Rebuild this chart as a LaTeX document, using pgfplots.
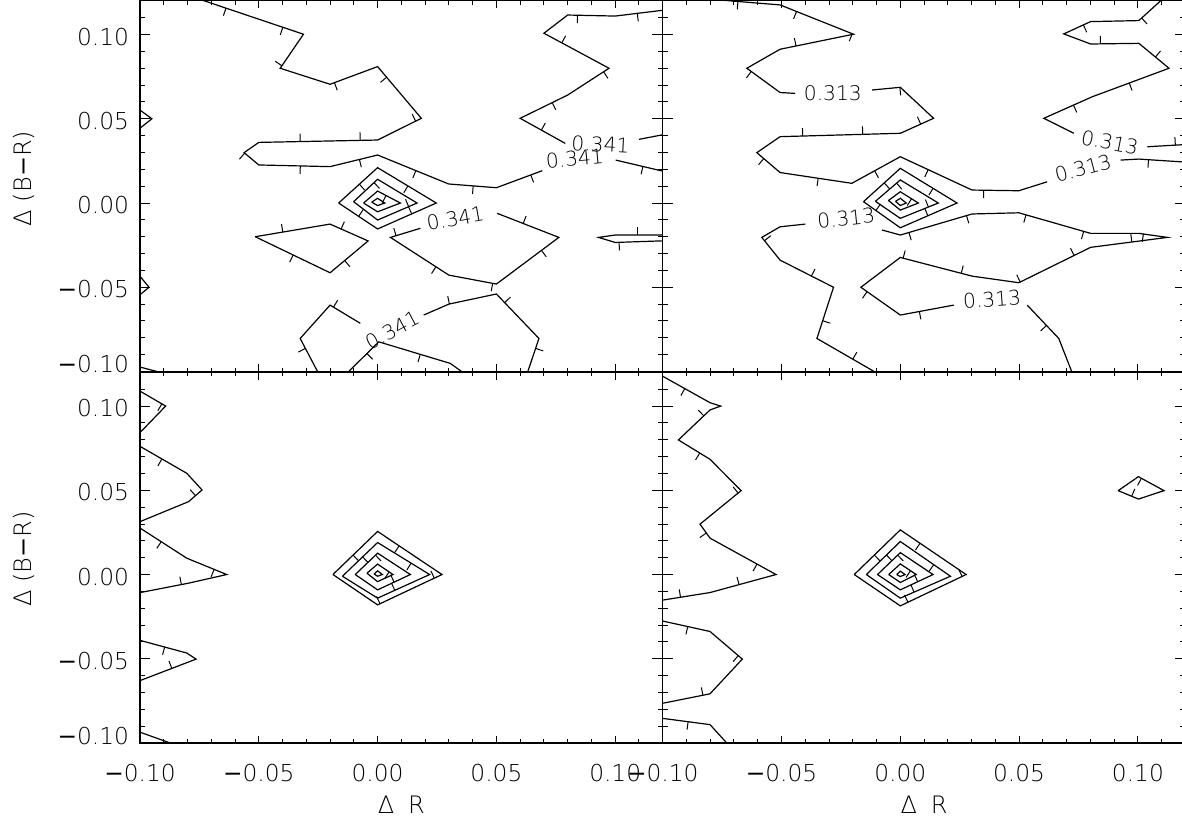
\documentclass[border=0pt]{standalone}
\usepackage{fontspec}
\setmainfont{DejaVuSans-ExtraLight.ttf}
\newfontfamily\regfont{DejaVu Sans}
\newcommand\mn{{\regfont −}}
\usepackage{pgfplots}
\pgfplotsset{compat=1.18}
\usetikzlibrary{decorations.markings}
\newcommand\tkfont{\fontsize{11.65}{14}\selectfont}
\newcommand\lbfont{\fontsize{10.1}{12}\selectfont}
\newcommand\axfont{\fontsize{12}{14}\selectfont}
\tikzset{
  cl/.style={black, line width=0.6pt, mark=none},
  dhR/.style={postaction={decorate}, decoration={markings, mark=between positions 14pt and -3pt step 30pt with {\draw[line width=0.5pt] (0,0) -- (0,-4pt);}}},
  dhL/.style={postaction={decorate}, decoration={markings, mark=between positions 14pt and -3pt step 30pt with {\draw[line width=0.5pt] (0,0) -- (0,4pt);}}},
  lb/.style={font=\lbfont, inner sep=0pt},
}
\pgfplotsset{
  panel/.style={
    disabledatascaling,
    scale only axis, width=261.35pt, height=185.3pt,
    xmin=-0.1, xmax=0.12, ymin=-0.1, ymax=0.12,
    xtick={-0.1,-0.05,0,0.05,0.1}, ytick={-0.1,-0.05,0,0.05,0.1},
    minor xtick={-0.09,-0.08,-0.07,-0.06,-0.04,-0.03,-0.02,-0.01,0.01,0.02,0.03,0.04,0.06,0.07,0.08,0.09,0.11},
    minor ytick={-0.09,-0.08,-0.07,-0.06,-0.04,-0.03,-0.02,-0.01,0.01,0.02,0.03,0.04,0.06,0.07,0.08,0.09,0.11},
    scaled ticks=false,
    tick align=inside,
    xtick style={black, line width=0.5pt, /pgfplots/major tick length=3.7pt, /pgfplots/minor tick length=1.9pt},
    ytick style={black, line width=0.5pt, /pgfplots/major tick length=5.2pt, /pgfplots/minor tick length=2.6pt},
    axis line style={line width=0.6pt},
    tick label style={font=\tkfont},
    xticklabel style={yshift=-7pt},
    yticklabel style={xshift=-2pt, yshift=-1pt},
    xticklabels={}, yticklabels={},
    anchor=north west,
  },
  xlab/.style={xticklabels={\mn0.10,\mn0.05,0.00,0.05,0.10},
    xlabel={Δ\hspace{7pt}R},
    xlabel style={at={(axis description cs:0.5,-0.1665)}, anchor=center, font=\axfont}},
  ylab/.style={yticklabels={\raisebox{4.5pt}[\height][\depth]{\mn0.10},\mn0.05,0.00,0.05,0.10},
    ylabel={Δ (B\mn R)},
    ylabel style={at={(axis description cs:-0.222,#1)}, anchor=center, font=\axfont}},
}
\begin{document}
\begin{tikzpicture}
\useasboundingbox (0,0) rectangle (591pt,-411pt);
% ---------------- top left ----------------
\begin{axis}[panel, ylab=0.521, at={(70pt,-0.45pt)}]
\addplot[cl,dhR] coordinates {(-0.075,0.121) (-0.0312,0.1002) (-0.041,0.08) (-0.02,0.0705) (0,0.081) (0.0184,0.0503) (0,0.0374) (-0.05,0.036) (-0.0562,0.0299) (-0.05,0.0226) (-0.02,0.0216) (0,0.0285) (0.0299,0.0113) (0.05,0.0091) (0.0693,0.0192)};
\addplot[cl,dhR] coordinates {(0.1002,0.0255) (0.121,0.0186)};
\addplot[cl,dhL] coordinates {(0.121,0.1146) (0.1,0.111) (0.08,0.1116) (0.07,0.1008) (0.0974,0.08) (0.08,0.0641) (0.06,0.0503) (0.079,0.0354)};
\addplot[cl,dhL] coordinates {(0.11,0.0378) (0.121,0.0408)};
\addplot[cl,dhR] coordinates {(0.121,-0.019) (0.1,-0.019) (0.093,-0.0204) (0.1,-0.0234) (0.121,-0.0224)};
\addplot[cl] coordinates {(-0.101,0.0562) (-0.095,0.05) (-0.101,0.0433)};
\addplot[cl] coordinates {(-0.101,-0.0418) (-0.0962,-0.05) (-0.101,-0.0556)};
\addplot[cl] coordinates {(-0.101,-0.097) (-0.0902,-0.101)};
\addplot[cl,dhL] coordinates {(-0.0515,-0.02) (-0.02,-0.0125) (-0.004,-0.0225) (-0.02,-0.0414) (-0.0515,-0.02)};
\addplot[cl,dhL] coordinates {(0.0503,-0.0061) (0.0763,-0.0204) (0.05,-0.0481) (0.03,-0.0428) (0.0054,-0.0204) (0.018,-0.015)};
\addplot[cl,dhL] coordinates {(-0.0249,-0.101) (-0.0326,-0.0804) (-0.02,-0.0606) (-0.0073,-0.0714)};
\addplot[cl,dhL] coordinates {(0.0194,-0.0665) (0.03,-0.06) (0.05,-0.054) (0.0679,-0.0804) (0.063,-0.101)};
\addplot[cl,dhR] coordinates {(-0.0129,-0.101) (0.0005,-0.0824) (0.0306,-0.0952) (0.0363,-0.101)};
\addplot[cl,dhR] coordinates {(-0.0164,0) (0,0.021) (0.0247,0) (0,-0.0154) (-0.0164,0)};
\addplot[cl,dhR] coordinates {(-0.0101,0.0008) (0,0.0141) (0.0166,0) (0,-0.0101) (-0.0101,0.0008)};
\addplot[cl,dhR] coordinates {(-0.0059,0) (0,0.0071) (0.0096,0) (0,-0.0052) (-0.0059,0)};
\addplot[cl] coordinates {(-0.0025,0.0005) (0,0.0028) (0.003,0) (0,-0.0015) (-0.0025,0.0005)};
\node[lb, rotate=5] at (axis cs:0.083,0.0265) {0.341};
\node[lb, rotate=-3] at (axis cs:0.0938,0.0349) {0.341};
\node[lb, rotate=10] at (axis cs:0.0327,-0.0091) {0.341};
\node[lb, rotate=28] at (axis cs:0.0061,-0.0754) {0.341};
\end{axis}
% ---------------- top right ----------------
\begin{axis}[panel, at={(331.35pt,-0.45pt)}]
\addplot[cl,dhR] coordinates {(-0.0801,0.121) (-0.0506,0.1176) (-0.0197,0.1002) (-0.0506,0.0913) (-0.0646,0.08) (-0.0506,0.0656) (-0.0443,0.0651)};
\addplot[cl,dhR] coordinates {(-0.0119,0.0671) (0,0.0687) (0.014,0.0503) (0,0.0414) (-0.0506,0.0394) (-0.0604,0.0299) (-0.0506,0.0181) (-0.0204,0.0117) (0,0.0275) (0.0302,0.0077) (0.0499,0.0073) (0.0618,0.0126)};
\addplot[cl,dhR] coordinates {(0.0927,0.0255) (0.1004,0.0261) (0.121,0.0242)};
\addplot[cl,dhL] coordinates {(0.1103,0.121) (0.1004,0.1083) (0.0801,0.1077) (0.0688,0.1004) (0.0801,0.0944) (0.1004,0.0948) (0.1131,0.08) (0.0808,0.0631) (0.0604,0.0503) (0.073,0.0414)};
\addplot[cl,dhL] coordinates {(0.104,0.0334) (0.121,0.0348)};
\addplot[cl,dhR] coordinates {(-0.0098,-0.101) (-0.0351,-0.0804) (-0.0281,-0.05) (-0.0506,-0.0339) (-0.0583,-0.0204) (-0.0506,-0.0141) (-0.04,-0.0125)};
\addplot[cl,dhR] coordinates {(-0.0077,-0.016) (0,-0.019) (0.0302,-0.0065) (0.0499,-0.0058) (0.0801,-0.018) (0.1004,-0.018) (0.1124,-0.0204) (0.0801,-0.0263) (0.0499,-0.0473) (0.0302,-0.0434) (0,-0.0323) (-0.0166,-0.05) (0,-0.0665) (0.0225,-0.0606)};
\addplot[cl,dhR] coordinates {(0.0534,-0.0606) (0.0667,-0.0804) (0.0724,-0.101)};
\addplot[cl,dhR] coordinates {(-0.0155,0.0008) (0,0.0206) (0.0239,0) (0,-0.0147) (-0.0155,0.0008)};
\addplot[cl,dhR] coordinates {(-0.0105,0.001) (0,0.0137) (0.016,0) (0,-0.0091) (-0.0105,0.001)};
\addplot[cl,dhR] coordinates {(-0.005,0.0015) (0,0.0067) (0.0076,0) (0,-0.0042) (-0.005,0.0015)};
\addplot[cl] coordinates {(-0.002,0.001) (0,0.0028) (0.0025,0) (0,-0.0015) (-0.002,0.001)};
\node[lb, rotate=0] at (axis cs:-0.0284,0.0651) {0.313};
\node[lb, rotate=15] at (axis cs:0.0769,0.0206) {0.313};
\node[lb, rotate=-11] at (axis cs:0.0882,0.0359) {0.313};
\node[lb, rotate=6] at (axis cs:-0.0228,-0.0091) {0.313};
\node[lb, rotate=4] at (axis cs:0.0386,-0.0571) {0.313};
\end{axis}
% ---------------- bottom left ----------------
\begin{axis}[panel, xlab, ylab=0.4965, at={(70pt,-186.2pt)}]
\addplot[cl,dhR] coordinates {(-0.101,0.1097) (-0.0892,0.1) (-0.101,0.0828)};
\addplot[cl,dhR] coordinates {(-0.101,0.0769) (-0.0803,0.0601) (-0.0739,0.0502) (-0.0795,0.0433) (-0.101,0.0308)};
\addplot[cl,dhR] coordinates {(-0.101,0.0285) (-0.0803,0.0097) (-0.0635,0) (-0.0795,-0.0051) (-0.101,-0.011)};
\addplot[cl,dhR] coordinates {(-0.101,-0.0387) (-0.0803,-0.0466) (-0.0764,-0.0502) (-0.101,-0.0635)};
\addplot[cl] coordinates {(-0.101,-0.0931) (-0.0853,-0.101)};
\addplot[cl,dhR] coordinates {(-0.0188,0) (0,0.0256) (0.0271,0) (0,-0.018) (-0.0188,0)};
\addplot[cl,dhR] coordinates {(-0.0148,-0.001) (0,0.019) (0.0219,0) (0,-0.014) (-0.0148,-0.001)};
\addplot[cl,dhR] coordinates {(-0.0094,0) (0,0.0127) (0.0138,0) (0,-0.0091) (-0.0094,0)};
\addplot[cl,dhR] coordinates {(-0.0045,0.0008) (0,0.0062) (0.0065,0) (0,-0.0042) (-0.0045,0.0008)};
\addplot[cl] coordinates {(-0.0015,0.0003) (0,0.0022) (0.002,0) (0,-0.001) (-0.0015,0.0003)};
\end{axis}
% ---------------- bottom right ----------------
\begin{axis}[panel, xlab, at={(331.35pt,-186.2pt)}]
\addplot[cl,dhR] coordinates {(-0.101,0.1185) (-0.0801,0.102) (-0.0756,0.1) (-0.0801,0.0977) (-0.0934,0.0799) (-0.0801,0.0684) (-0.067,0.0498) (-0.0843,0.0299) (-0.0801,0.0216) (-0.0523,0) (-0.0801,-0.0107) (-0.101,-0.0154)};
\addplot[cl,dhR] coordinates {(-0.101,-0.0273) (-0.0801,-0.0338) (-0.0665,-0.0502) (-0.0801,-0.0708) (-0.101,-0.0767)};
\addplot[cl,dhR] coordinates {(-0.101,-0.0852) (-0.0801,-0.0891) (-0.0724,-0.101)};
\addplot[cl,dhR] coordinates {(0.0917,0.0498) (0.1002,0.0581) (0.111,0.0498) (0.1002,0.0448) (0.0917,0.0498)};
\addplot[cl,dhR] coordinates {(-0.0194,0) (0,0.0265) (0.0277,0) (0,-0.0186) (-0.0194,0)};
\addplot[cl,dhR] coordinates {(-0.0143,0) (0,0.0196) (0.0211,-0.001) (0,-0.014) (-0.0143,0)};
\addplot[cl,dhR] coordinates {(-0.0096,0) (0,0.013) (0.0138,0) (0,-0.0091) (-0.0096,0)};
\addplot[cl,dhR] coordinates {(-0.0049,0) (0,0.0063) (0.0067,0) (0,-0.0047) (-0.0049,0)};
\addplot[cl] coordinates {(-0.0015,0) (0,0.002) (0.002,0) (0,-0.0012) (-0.0015,0)};
\end{axis}
\end{tikzpicture}
\end{document}
